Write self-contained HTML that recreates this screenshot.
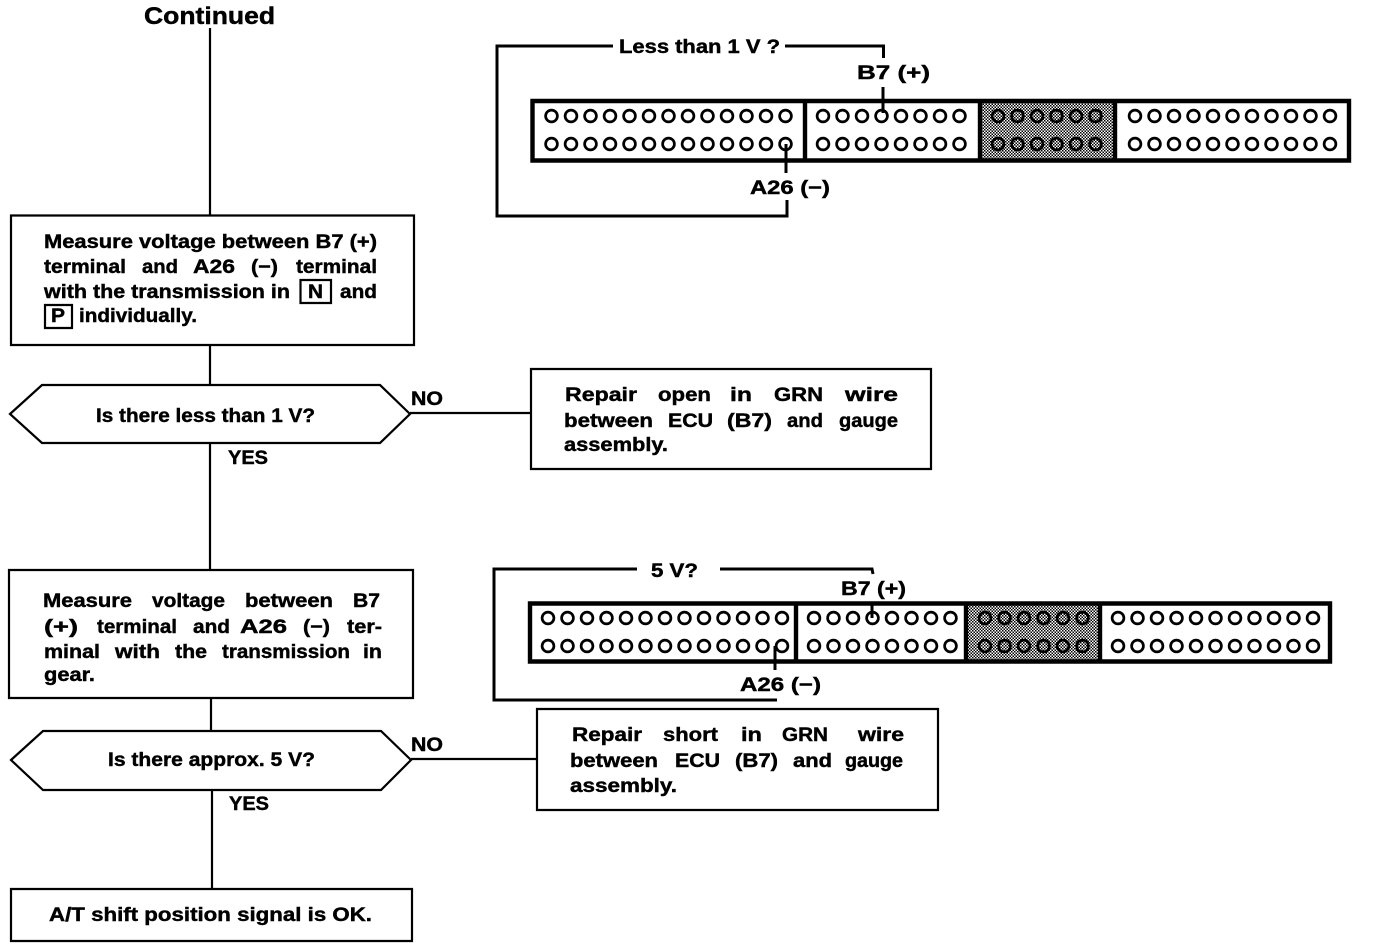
<!DOCTYPE html>
<html lang="en">
<head>
<meta charset="utf-8">
<title>A/T shift position signal check</title>
<style>
html,body{margin:0;padding:0;background:#fff;width:1376px;height:948px;overflow:hidden}
svg{display:block}
text{font-family:"Liberation Sans",sans-serif;font-weight:bold;font-size:19.500px;fill:#000;stroke:#000;stroke-width:.45}
.l{fill:none;stroke:#000;stroke-width:2.2}
.w{fill:none;stroke:#000;stroke-width:3}
.c{fill:none;stroke:#000;stroke-width:4.4}
</style>
</head>
<body>
<svg width="1376" height="948" viewBox="0 0 1376 948" xmlns="http://www.w3.org/2000/svg">
<defs>
<pattern id="d" width="3" height="3" patternUnits="userSpaceOnUse">
<rect width="3" height="3" fill="#fff"/>
<rect x="0" y="0" width="1.5" height="1.5" fill="#000"/>
<rect x="1.5" y="1.5" width="1.5" height="1.5" fill="#000"/>
</pattern>
<circle id="o" r="5.900" fill="none" stroke="#000" stroke-width="2.700"/>
<g id="r6"><use href="#o"/><use href="#o" x="19.500"/><use href="#o" x="39"/><use href="#o" x="58.500"/><use href="#o" x="78"/><use href="#o" x="97.500"/></g>
<g id="r8"><use href="#r6"/><use href="#o" x="117"/><use href="#o" x="136.500"/></g>
<g id="r11"><use href="#r8"/><use href="#o" x="156"/><use href="#o" x="175.500"/><use href="#o" x="195"/></g>
<g id="r13"><use href="#r11"/><use href="#o" x="214.500"/><use href="#o" x="234"/></g>
</defs>
<rect width="1376" height="948" fill="#fff"/>

<!-- flow lines -->
<path class="l" d="M210 28V215M210 345V385M210 443V570M211 698V731M212 790V889M410 413H531M411 759H537"/>
<path class="l" d="M11 215.500H414V345H11Z"/>
<path class="l" d="M10 414L42 385H380L410 414L380 443H42Z"/>
<path class="l" d="M531 369H931V469H531Z"/>
<path class="l" d="M9 570H413V698H9Z"/>
<path class="l" d="M11 760L43 731H381L411 760L381 790H43Z"/>
<path class="l" d="M537 709H938V810H537Z"/>
<path class="l" d="M11 889H412V941H11Z"/>

<!-- top connector -->
<rect x="981" y="103" width="134" height="56" fill="url(#d)"/>
<path class="c" d="M532.500 101H1349V160.500H532.500ZM805 101V160.500M980 101V160.500M1115 101V160.500"/>
<use href="#r13" x="551.500" y="116"/>
<use href="#r13" x="551.500" y="144"/>
<use href="#r8" x="823" y="116"/>
<use href="#r8" x="823" y="144"/>
<use href="#r6" x="998" y="116"/>
<use href="#r6" x="998" y="144"/>
<use href="#r11" x="1135" y="116"/>
<use href="#r11" x="1135" y="144"/>
<path class="w" d="M613 46H497V216H787V200M785 46H883.500V58M883 87V113M786 144V173"/>

<!-- bottom connector -->
<rect x="968" y="605" width="131" height="55" fill="url(#d)"/>
<path class="c" d="M530 603.500H1330V661.500H530ZM796 603.500V661.500M966 603.500V661.500M1100 603.500V661.500"/>
<use href="#r13" x="548" y="618"/>
<use href="#r13" x="548" y="646"/>
<use href="#r8" x="814" y="618"/>
<use href="#r8" x="814" y="646"/>
<use href="#r6" x="985" y="618"/>
<use href="#r6" x="985" y="646"/>
<use href="#r11" x="1118" y="618"/>
<use href="#r11" x="1118" y="646"/>
<path class="w" d="M637 569H494V700H777M720 569H872L873 574M872 605V618M775 646V670"/>

<!-- labels -->
<text lengthAdjust="spacingAndGlyphs" x="144" y="24" textLength="131" style="font-size:24px">Continued</text>
<text lengthAdjust="spacingAndGlyphs" x="619" y="53" textLength="161">Less than 1 V ?</text>
<text lengthAdjust="spacingAndGlyphs" x="857" y="79" textLength="73">B7 (+)</text>
<text lengthAdjust="spacingAndGlyphs" x="750" y="194" textLength="80">A26 (−)</text>
<text lengthAdjust="spacingAndGlyphs" x="651" y="577" textLength="47">5 V?</text>
<text lengthAdjust="spacingAndGlyphs" x="841" y="595" textLength="65">B7 (+)</text>
<text lengthAdjust="spacingAndGlyphs" x="740" y="691" textLength="81">A26 (−)</text>

<!-- box 1 -->
<text lengthAdjust="spacingAndGlyphs" x="44" y="248" textLength="333">Measure voltage between B7 (+)</text>
<text lengthAdjust="spacingAndGlyphs" x="44" y="273" textLength="82">terminal</text>
<text lengthAdjust="spacingAndGlyphs" x="142" y="273" textLength="36">and</text>
<text lengthAdjust="spacingAndGlyphs" x="193" y="273" textLength="42">A26</text>
<text lengthAdjust="spacingAndGlyphs" x="251" y="273" textLength="27">(−)</text>
<text lengthAdjust="spacingAndGlyphs" x="296" y="273" textLength="81">terminal</text>
<text lengthAdjust="spacingAndGlyphs" x="44" y="298" textLength="246">with the transmission in</text>
<path class="l" d="M300.500 280H331V303H300.500Z"/>
<text lengthAdjust="spacingAndGlyphs" x="308" y="298" textLength="15">N</text>
<text lengthAdjust="spacingAndGlyphs" x="340" y="298" textLength="37">and</text>
<path class="l" d="M45 305H72V328H45Z"/>
<text lengthAdjust="spacingAndGlyphs" x="51" y="322" textLength="14">P</text>
<text lengthAdjust="spacingAndGlyphs" x="79" y="322" textLength="118">individually.</text>

<text lengthAdjust="spacingAndGlyphs" x="96" y="422" textLength="219">Is there less than 1 V?</text>
<text lengthAdjust="spacingAndGlyphs" x="411" y="405" textLength="32">NO</text>
<text lengthAdjust="spacingAndGlyphs" x="228" y="464" textLength="40">YES</text>

<!-- repair open -->
<text lengthAdjust="spacingAndGlyphs" x="565" y="401" textLength="72">Repair</text>
<text lengthAdjust="spacingAndGlyphs" x="658" y="401" textLength="53">open</text>
<text lengthAdjust="spacingAndGlyphs" x="730" y="401" textLength="22">in</text>
<text lengthAdjust="spacingAndGlyphs" x="774" y="401" textLength="49">GRN</text>
<text lengthAdjust="spacingAndGlyphs" x="845" y="401" textLength="53">wire</text>
<text lengthAdjust="spacingAndGlyphs" x="564" y="427" textLength="89">between</text>
<text lengthAdjust="spacingAndGlyphs" x="668" y="427" textLength="45">ECU</text>
<text lengthAdjust="spacingAndGlyphs" x="727" y="427" textLength="45">(B7)</text>
<text lengthAdjust="spacingAndGlyphs" x="787" y="427" textLength="36">and</text>
<text lengthAdjust="spacingAndGlyphs" x="839" y="427" textLength="59">gauge</text>
<text lengthAdjust="spacingAndGlyphs" x="564" y="451" textLength="104">assembly.</text>

<!-- box 2 -->
<text lengthAdjust="spacingAndGlyphs" x="43" y="607" textLength="89">Measure</text>
<text lengthAdjust="spacingAndGlyphs" x="152" y="607" textLength="73">voltage</text>
<text lengthAdjust="spacingAndGlyphs" x="245" y="607" textLength="88">between</text>
<text lengthAdjust="spacingAndGlyphs" x="353" y="607" textLength="27">B7</text>
<text lengthAdjust="spacingAndGlyphs" x="44" y="633" textLength="34">(+)</text>
<text lengthAdjust="spacingAndGlyphs" x="97" y="633" textLength="80">terminal</text>
<text lengthAdjust="spacingAndGlyphs" x="193" y="633" textLength="37">and</text>
<text lengthAdjust="spacingAndGlyphs" x="240" y="633" textLength="47">A26</text>
<text lengthAdjust="spacingAndGlyphs" x="303" y="633" textLength="27">(−)</text>
<text lengthAdjust="spacingAndGlyphs" x="347" y="633" textLength="35">ter-</text>
<text lengthAdjust="spacingAndGlyphs" x="44" y="658" textLength="56">minal</text>
<text lengthAdjust="spacingAndGlyphs" x="115" y="658" textLength="45">with</text>
<text lengthAdjust="spacingAndGlyphs" x="175" y="658" textLength="32">the</text>
<text lengthAdjust="spacingAndGlyphs" x="222" y="658" textLength="128">transmission</text>
<text lengthAdjust="spacingAndGlyphs" x="363" y="658" textLength="19">in</text>
<text lengthAdjust="spacingAndGlyphs" x="44" y="681" textLength="51">gear.</text>

<text lengthAdjust="spacingAndGlyphs" x="108" y="766" textLength="207">Is there approx. 5 V?</text>
<text lengthAdjust="spacingAndGlyphs" x="411" y="751" textLength="32">NO</text>
<text lengthAdjust="spacingAndGlyphs" x="229" y="810" textLength="40">YES</text>

<!-- repair short -->
<text lengthAdjust="spacingAndGlyphs" x="572" y="741" textLength="70">Repair</text>
<text lengthAdjust="spacingAndGlyphs" x="663" y="741" textLength="55">short</text>
<text lengthAdjust="spacingAndGlyphs" x="741" y="741" textLength="21">in</text>
<text lengthAdjust="spacingAndGlyphs" x="782" y="741" textLength="46">GRN</text>
<text lengthAdjust="spacingAndGlyphs" x="858" y="741" textLength="46">wire</text>
<text lengthAdjust="spacingAndGlyphs" x="570" y="767" textLength="88">between</text>
<text lengthAdjust="spacingAndGlyphs" x="675" y="767" textLength="45">ECU</text>
<text lengthAdjust="spacingAndGlyphs" x="735" y="767" textLength="43">(B7)</text>
<text lengthAdjust="spacingAndGlyphs" x="793" y="767" textLength="39">and</text>
<text lengthAdjust="spacingAndGlyphs" x="845" y="767" textLength="58">gauge</text>
<text lengthAdjust="spacingAndGlyphs" x="570" y="792" textLength="107">assembly.</text>

<!-- final -->
<text lengthAdjust="spacingAndGlyphs" x="49" y="921" textLength="323">A/T shift position signal is OK.</text>
</svg>
</body>
</html>
